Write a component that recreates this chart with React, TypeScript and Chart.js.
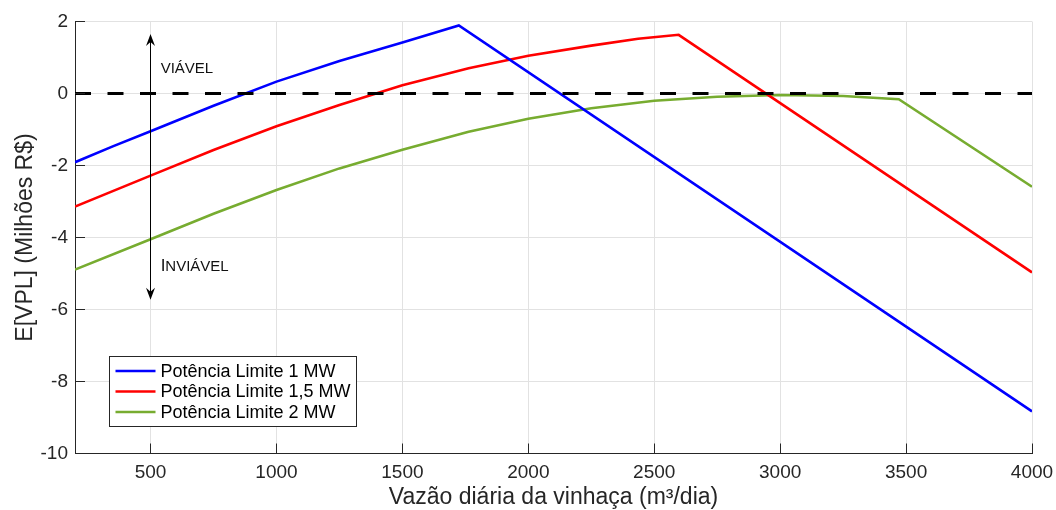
import React, { useEffect, useRef } from "react";
import { Chart, registerables } from "chart.js";

Chart.register(...registerables);

// ---- data ----
const blueLabel = "Potência Limite 1 MW";
const blueX = [200, 350, 500, 750, 1000, 1250, 1500, 1724, 4000];
const blueY = [-1.91, -1.47, -1.05, -0.34, 0.33, 0.9, 1.42, 1.89, -8.83];

const redLabel = "Potência Limite 1,5 MW";
const redX = [200, 500, 750, 1000, 1250, 1500, 1763, 2000, 2250, 2436, 2597, 4000];
const redY = [-3.14, -2.28, -1.57, -0.91, -0.32, 0.23, 0.7, 1.05, 1.33, 1.52, 1.63, -4.97];

const greenLabel = "Potência Limite 2 MW";
const greenX = [200, 500, 750, 1000, 1250, 1500, 1763, 2000, 2250, 2500, 2750, 3000, 3250, 3471, 4000];
const greenY = [-4.89, -4.05, -3.34, -2.68, -2.08, -1.56, -1.06, -0.7, -0.41, -0.2, -0.09, -0.04, -0.07, -0.16, -2.59];

const zeroX = [200, 4000];
const zeroY = [0, 0];

const xTicks = [500, 1000, 1500, 2000, 2500, 3000, 3500, 4000];
const yTicks = [-10, -8, -6, -4, -2, 0, 2];

const xTitle = "Vazão diária da vinhaça (m³/dia)";
const yTitle = "E[VPL] (Milhões R$)";

// annotation (arrow and texts) in data coordinates
const arrowX = 500;
const arrowTopY = 1.65;
const arrowBottomY = -5.73;
const viavelText = "VIÁVEL";
const viavelX = 540;
const viavelY = 0.69;
const inviavelText = "INVIÁVEL";
const inviavelX = 540;
const inviavelY = -4.77;

const FONT = '"Liberation Sans", Arial, Helvetica, sans-serif';

const toPoints = (xs: number[], ys: number[]) => xs.map((x, i) => ({ x, y: ys[i] }));

const innerTicks = {
  id: "innerTicks",
  afterDraw(chart: any) {
    const { ctx, chartArea } = chart;
    const x = chart.scales.x;
    const y = chart.scales.y;
    ctx.save();
    ctx.strokeStyle = "#262626";
    ctx.lineWidth = 1;
    ctx.beginPath();
    x.ticks.forEach((t: any) => {
      const px = Math.round(x.getPixelForValue(t.value) + 0.5) - 0.5;
      ctx.moveTo(px, chartArea.bottom);
      ctx.lineTo(px, chartArea.bottom - 10);
    });
    y.ticks.forEach((t: any) => {
      const py = Math.round(y.getPixelForValue(t.value) + 0.5) - 0.5;
      ctx.moveTo(chartArea.left, py);
      ctx.lineTo(chartArea.left + 10, py);
    });
    ctx.stroke();
    ctx.restore();
  },
};

const annotations = {
  id: "annotations",
  afterDatasetsDraw(chart: any) {
    const { ctx } = chart;
    const x = chart.scales.x;
    const y = chart.scales.y;
    const ax = Math.round(x.getPixelForValue(arrowX) + 0.5) - 0.5;
    const top = y.getPixelForValue(arrowTopY);
    const bot = y.getPixelForValue(arrowBottomY);
    ctx.save();
    ctx.strokeStyle = "#000";
    ctx.fillStyle = "#000";
    ctx.lineWidth = 1;
    ctx.beginPath();
    ctx.moveTo(ax, top + 6);
    ctx.lineTo(ax, bot - 6);
    ctx.stroke();
    // top head
    ctx.beginPath();
    ctx.moveTo(ax, top);
    ctx.lineTo(ax - 4.5, top + 12);
    ctx.lineTo(ax, top + 8);
    ctx.lineTo(ax + 4.5, top + 12);
    ctx.closePath();
    ctx.fill();
    // bottom head
    ctx.beginPath();
    ctx.moveTo(ax, bot);
    ctx.lineTo(ax - 4.5, bot - 12);
    ctx.lineTo(ax, bot - 8);
    ctx.lineTo(ax + 4.5, bot - 12);
    ctx.closePath();
    ctx.fill();

    ctx.textBaseline = "middle";
    ctx.textAlign = "left";
    ctx.font = `15px ${FONT}`;
    ctx.fillStyle = "#111";
    ctx.fillText(viavelText, x.getPixelForValue(viavelX), y.getPixelForValue(viavelY));
    // INVIÁVEL with a slightly larger first letter
    const ix = x.getPixelForValue(inviavelX);
    const iy = y.getPixelForValue(inviavelY);
    const first = inviavelText.slice(0, 1);
    const rest = inviavelText.slice(1);
    ctx.textBaseline = "alphabetic";
    ctx.font = `17px ${FONT}`;
    const base = iy + 5.5;
    ctx.fillText(first, ix, base);
    const w1 = ctx.measureText(first).width;
    ctx.font = `15px ${FONT}`;
    ctx.fillText(rest, ix + w1, base);
    ctx.restore();
  },
};

const boxLegend = {
  id: "boxLegend",
  afterDraw(chart: any) {
    const { ctx, chartArea } = chart;
    const items = chart.data.datasets.filter((d: any) => d.label);
    ctx.save();
    ctx.font = `18px ${FONT}`;
    const textW = Math.max(...items.map((d: any) => ctx.measureText(d.label).width));
    const padL = 6;
    const lineLen = 40;
    const gap = 5;
    const padR = 6;
    const rowH = 20.5;
    const padT = 14.5;
    const h = 70;
    const w = padL + lineLen + gap + textW + padR;
    const left = Math.round(chartArea.left + 34) + 0.5;
    const bottom = Math.round(chartArea.bottom - 27.5) + 0.5;
    const top = bottom - h;
    ctx.fillStyle = "#fff";
    ctx.fillRect(left, top, w, h);
    ctx.strokeStyle = "#262626";
    ctx.lineWidth = 1;
    ctx.strokeRect(left, top, Math.round(w), h);
    items.forEach((d: any, i: number) => {
      const cy = top + padT + i * rowH;
      ctx.strokeStyle = d.borderColor;
      ctx.lineWidth = d.borderWidth;
      ctx.beginPath();
      ctx.moveTo(left + padL, cy);
      ctx.lineTo(left + padL + lineLen, cy);
      ctx.stroke();
      ctx.fillStyle = "#000";
      ctx.textBaseline = "middle";
      ctx.textAlign = "left";
      ctx.fillText(d.label, left + padL + lineLen + gap, cy + 1);
    });
    ctx.restore();
  },
};

export default function App() {
  const ref = useRef<HTMLCanvasElement>(null);

  useEffect(() => {
    if (!ref.current) return;
    const tickFont = { family: FONT, size: 19 };
    const titleFont = { family: FONT, size: 23 };
    const chart = new Chart(ref.current, {
      type: "line",
      data: {
        datasets: [
          {
            data: toPoints(zeroX, zeroY),
            borderColor: "#000",
            borderWidth: 3,
            borderDash: [16, 16.5],
            pointRadius: 0,
          } as any,
          {
            label: blueLabel,
            data: toPoints(blueX, blueY),
            borderColor: "#0000ff",
            borderWidth: 2.6,
            pointRadius: 0,
          },
          {
            label: redLabel,
            data: toPoints(redX, redY),
            borderColor: "#ff0000",
            borderWidth: 2.6,
            pointRadius: 0,
          },
          {
            label: greenLabel,
            data: toPoints(greenX, greenY),
            borderColor: "#77ac30",
            borderWidth: 2.6,
            pointRadius: 0,
          },
        ],
      },
      options: {
        responsive: false,
        animation: false,
        layout: { padding: { top: 21.5, right: 24, bottom: 0, left: 0 } },
        plugins: { legend: { display: false }, tooltip: { enabled: false } },
        elements: { line: { tension: 0 }, point: { radius: 0 } },
        scales: {
          x: {
            type: "linear",
            min: 200,
            max: 4000,
            afterBuildTicks: (s: any) => {
              s.ticks = xTicks.map((v) => ({ value: v }));
            },
            afterFit: (s: any) => {
              s.height = 56.5;
              s.paddingLeft = 0;
              s.paddingRight = 0;
            },
            grid: { color: "#e2e2e2", drawTicks: false, lineWidth: 1 },
            border: { color: "#262626", width: 1 },
            ticks: {
              padding: 7.5,
              color: "#262626",
              font: tickFont,
              maxRotation: 0,
              autoSkip: false,
              callback: (v: any) => String(v),
            },
            title: {
              display: true,
              text: xTitle,
              color: "#262626",
              font: { ...titleFont, lineHeight: 1.1 },
              padding: 0,
            },
          },
          y: {
            type: "linear",
            min: -10,
            max: 2,
            afterBuildTicks: (s: any) => {
              s.ticks = yTicks.map((v) => ({ value: v }));
            },
            afterFit: (s: any) => {
              s.width = 75;
              s.paddingTop = 0;
              s.paddingBottom = 0;
            },
            grid: { color: "#e2e2e2", drawTicks: false, lineWidth: 1 },
            border: { color: "#262626", width: 1 },
            ticks: {
              padding: 7,
              color: "#262626",
              font: tickFont,
              autoSkip: false,
              callback: (v: any) => String(v),
            },
            title: {
              display: true,
              text: yTitle,
              color: "#262626",
              font: { ...titleFont, lineHeight: 1.2 },
              padding: 11.5,
            },
          },
        },
      },
      plugins: [annotations, innerTicks, boxLegend],
    });
    return () => chart.destroy();
  }, []);

  return (
    <div style={{ position: "absolute", left: 0, top: 0, width: 1056, height: 510, background: "#fff" }}>
      <canvas ref={ref} width={1056} height={510} style={{ display: "block" }} />
    </div>
  );
}
